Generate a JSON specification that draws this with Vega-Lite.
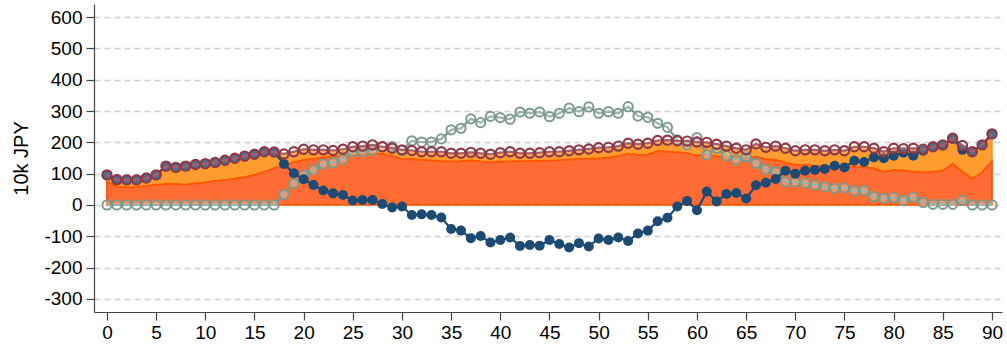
{
  "$schema": "https://vega.github.io/schema/vega-lite/v6.json",
  "width": 908,
  "height": 308,
  "autosize": {"type": "none"},
  "padding": {"left": 94, "top": 4, "right": 5, "bottom": 37},
  "config": {
    "view": {"stroke": null},
    "font": "Liberation Sans",
    "axis": {"labelFont": "Liberation Sans", "titleFont": "Liberation Sans", "labelColor": "#000", "titleColor": "#000", "domainColor": "#444", "tickColor": "#444", "labelOverlap": false, "labelFlush": false, "labelBound": false}
  },
  "data": {
    "values": [
      {"x":0,"total":96,"gray":0,"net":96,"lower":74},
      {"x":1,"total":81,"gray":0,"net":81,"lower":59},
      {"x":2,"total":80,"gray":0,"net":80,"lower":56},
      {"x":3,"total":80,"gray":0,"net":80,"lower":57},
      {"x":4,"total":86,"gray":0,"net":86,"lower":61},
      {"x":5,"total":96,"gray":0,"net":96,"lower":64},
      {"x":6,"total":124,"gray":0,"net":124,"lower":67},
      {"x":7,"total":120,"gray":0,"net":120,"lower":67},
      {"x":8,"total":124,"gray":0,"net":124,"lower":65},
      {"x":9,"total":129,"gray":0,"net":129,"lower":69},
      {"x":10,"total":132,"gray":0,"net":132,"lower":72},
      {"x":11,"total":136,"gray":0,"net":136,"lower":77},
      {"x":12,"total":143,"gray":0,"net":143,"lower":80},
      {"x":13,"total":149,"gray":0,"net":149,"lower":84},
      {"x":14,"total":156,"gray":0,"net":156,"lower":89},
      {"x":15,"total":162,"gray":0,"net":162,"lower":96},
      {"x":16,"total":170,"gray":0,"net":170,"lower":106},
      {"x":17,"total":169,"gray":0,"net":169,"lower":118},
      {"x":18,"total":163,"gray":34,"net":131,"lower":125},
      {"x":19,"total":170,"gray":69,"net":101,"lower":136},
      {"x":20,"total":178,"gray":95,"net":82,"lower":144},
      {"x":21,"total":176,"gray":112,"net":64,"lower":147},
      {"x":22,"total":176,"gray":131,"net":46,"lower":152},
      {"x":23,"total":174,"gray":135,"net":37,"lower":154},
      {"x":24,"total":178,"gray":146,"net":32,"lower":156},
      {"x":25,"total":186,"gray":170,"net":14,"lower":160},
      {"x":26,"total":188,"gray":170,"net":16,"lower":163},
      {"x":27,"total":192,"gray":174,"net":16,"lower":165},
      {"x":28,"total":186,"gray":186,"net":3,"lower":163},
      {"x":29,"total":181,"gray":186,"net":-8,"lower":157},
      {"x":30,"total":176,"gray":174,"net":-5,"lower":146},
      {"x":31,"total":174,"gray":205,"net":-32,"lower":146},
      {"x":32,"total":170,"gray":201,"net":-30,"lower":144},
      {"x":33,"total":170,"gray":201,"net":-32,"lower":142},
      {"x":34,"total":170,"gray":211,"net":-40,"lower":140},
      {"x":35,"total":165,"gray":240,"net":-77,"lower":139},
      {"x":36,"total":165,"gray":245,"net":-82,"lower":140},
      {"x":37,"total":168,"gray":275,"net":-106,"lower":142},
      {"x":38,"total":165,"gray":263,"net":-99,"lower":139},
      {"x":39,"total":162,"gray":283,"net":-120,"lower":137},
      {"x":40,"total":167,"gray":279,"net":-112,"lower":138},
      {"x":41,"total":170,"gray":274,"net":-104,"lower":139},
      {"x":42,"total":165,"gray":297,"net":-131,"lower":140},
      {"x":43,"total":165,"gray":293,"net":-128,"lower":140},
      {"x":44,"total":167,"gray":297,"net":-130,"lower":141},
      {"x":45,"total":170,"gray":282,"net":-112,"lower":141},
      {"x":46,"total":170,"gray":293,"net":-125,"lower":143},
      {"x":47,"total":173,"gray":309,"net":-136,"lower":145},
      {"x":48,"total":176,"gray":298,"net":-122,"lower":147},
      {"x":49,"total":179,"gray":313,"net":-133,"lower":148},
      {"x":50,"total":183,"gray":293,"net":-107,"lower":149},
      {"x":51,"total":184,"gray":298,"net":-112,"lower":152},
      {"x":52,"total":188,"gray":293,"net":-104,"lower":156},
      {"x":53,"total":197,"gray":314,"net":-115,"lower":164},
      {"x":54,"total":194,"gray":284,"net":-91,"lower":159},
      {"x":55,"total":197,"gray":280,"net":-82,"lower":161},
      {"x":56,"total":206,"gray":261,"net":-52,"lower":172},
      {"x":57,"total":207,"gray":248,"net":-41,"lower":170},
      {"x":58,"total":205,"gray":208,"net":-5,"lower":168},
      {"x":59,"total":204,"gray":192,"net":13,"lower":165},
      {"x":60,"total":201,"gray":215,"net":-17,"lower":157},
      {"x":61,"total":200,"gray":160,"net":43,"lower":163},
      {"x":62,"total":194,"gray":181,"net":11,"lower":155},
      {"x":63,"total":188,"gray":157,"net":35,"lower":154},
      {"x":64,"total":181,"gray":144,"net":38,"lower":152},
      {"x":65,"total":176,"gray":154,"net":21,"lower":149},
      {"x":66,"total":195,"gray":133,"net":63,"lower":154},
      {"x":67,"total":184,"gray":114,"net":71,"lower":146},
      {"x":68,"total":188,"gray":106,"net":83,"lower":144},
      {"x":69,"total":181,"gray":74,"net":109,"lower":135},
      {"x":70,"total":173,"gray":73,"net":100,"lower":128},
      {"x":71,"total":176,"gray":69,"net":109,"lower":128},
      {"x":72,"total":176,"gray":64,"net":112,"lower":125},
      {"x":73,"total":173,"gray":58,"net":115,"lower":125},
      {"x":74,"total":176,"gray":53,"net":125,"lower":122},
      {"x":75,"total":173,"gray":55,"net":120,"lower":122},
      {"x":76,"total":186,"gray":45,"net":141,"lower":122},
      {"x":77,"total":186,"gray":46,"net":137,"lower":121},
      {"x":78,"total":181,"gray":27,"net":152,"lower":117},
      {"x":79,"total":170,"gray":21,"net":149,"lower":106},
      {"x":80,"total":181,"gray":24,"net":157,"lower":112},
      {"x":81,"total":180,"gray":14,"net":167,"lower":110},
      {"x":82,"total":181,"gray":25,"net":157,"lower":106},
      {"x":83,"total":178,"gray":8,"net":173,"lower":104},
      {"x":84,"total":186,"gray":2,"net":185,"lower":106},
      {"x":85,"total":192,"gray":2,"net":191,"lower":110},
      {"x":86,"total":213,"gray":2,"net":212,"lower":131},
      {"x":87,"total":190,"gray":15,"net":176,"lower":106},
      {"x":88,"total":170,"gray":0,"net":170,"lower":84},
      {"x":89,"total":192,"gray":0,"net":192,"lower":104},
      {"x":90,"total":227,"gray":0,"net":227,"lower":140}
    ]
  },
  "encoding": {
    "x": {
      "field": "x", "type": "quantitative",
      "scale": {"domain": [-1.32, 91.02], "nice": false, "zero": false},
      "axis": {"title": null, "values": [0,5,10,15,20,25,30,35,40,45,50,55,60,65,70,75,80,85,90], "tickCount": 30, "tickSize": 8, "labelPadding": 3, "labelFontSize": 19, "grid": false, "domainWidth": 1.2, "tickWidth": 1.2}
    }
  },
  "layer": [
    {
      "mark": {"type": "area", "fill": "#FF9C30", "stroke": "#FF8A1C", "strokeWidth": 1.5},
      "encoding": {
        "y": {
          "field": "total", "type": "quantitative",
          "scale": {"domain": [-342, 642], "nice": false, "zero": false},
          "axis": {"title": "10k JPY", "titleFontSize": 20, "titleFontWeight": "normal", "values": [-300,-200,-100,0,100,200,300,400,500,600], "tickCount": 20, "labelExpr": "toString(datum.value)", "tickSize": 8, "labelPadding": 4, "labelFontSize": 19, "grid": true, "gridDash": [6,4], "gridColor": "#cfcfcf", "gridWidth": 1.3, "domainWidth": 1.2, "tickWidth": 1.2, "titlePadding": 12}
        },
        "y2": {"field": "lower"}
      }
    },
    {
      "mark": {"type": "area", "fill": "#FF6C33", "stroke": "#FF5500", "strokeWidth": 1.8},
      "encoding": {
        "y": {"field": "lower", "type": "quantitative"},
        "y2": {"datum": 0}
      }
    },
    {
      "mark": {"type": "line", "color": "#7B9A8C", "strokeWidth": 2.2, "point": {"filled": false, "fill": "#ffffff", "fillOpacity": 0.25, "stroke": "#7B9A8C", "size": 85, "strokeWidth": 2}},
      "encoding": {"y": {"field": "gray", "type": "quantitative"}}
    },
    {
      "mark": {"type": "line", "color": "#1C4A72", "strokeWidth": 2.2, "point": {"filled": true, "fill": "#1C4A72", "size": 100}},
      "encoding": {"y": {"field": "net", "type": "quantitative"}}
    },
    {
      "mark": {"type": "line", "color": "#8E3848", "strokeWidth": 2.2, "point": {"filled": false, "fill": "#ffffff", "fillOpacity": 0.2, "stroke": "#8E3848", "size": 85, "strokeWidth": 2.2}},
      "encoding": {"y": {"field": "total", "type": "quantitative"}}
    }
  ]
}
